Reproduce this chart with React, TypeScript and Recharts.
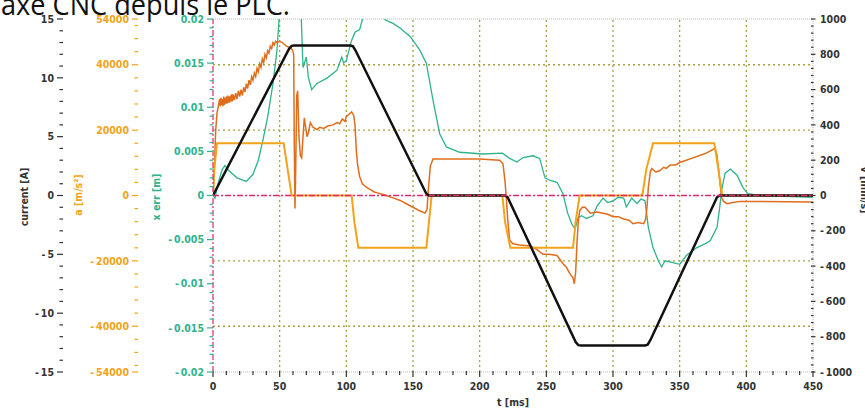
import React from 'react';
import { ComposedChart, Line, XAxis, YAxis, ReferenceLine } from 'recharts';

const FONT = "'DejaVu Sans Condensed', 'DejaVu Sans', sans-serif";

// velocity [mm/s] (right axis)
const velocityPts: [number, number][] = [
  [0, 0], [57, 830], [59, 848], [61, 850], [103, 850], [105, 845], [107, 820], [160, 10], [162, 0],
  [219, 0], [221, -10], [272, -830], [274, -848], [276, -850], [324, -850], [326, -845], [328, -820],
  [378, -10], [380, 0], [450, 0],
];

// acceleration [m/s²]
const accelPts: [number, number][] = [
  [0, 0], [1, 8000], [3, 16000], [53, 16000], [56, 8000], [59, 0], [104, 0], [106, -8000], [109, -16000],
  [160, -16000], [162, -8000], [164, 0], [217, 0], [219, -8000], [223, -16000], [270, -16000], [272, -8000],
  [275, 0], [322, 0], [325, 8000], [330, 16000], [376, 16000], [379, 8000], [382, 0], [450, 0],
];

// current [A]
const currentPts: [number, number][] = [
  [0, 0], [1, 2.2], [2, 5.5], [3, 7.0], [4, 7.6],
  [5, 8.2], [5.5, 7.6], [6, 8.3], [6.5, 7.7], [7, 8.2], [7.5, 7.6], [8, 8.4], [8.5, 7.7], [9, 8.3], [9.5, 7.8],
  [10, 8.4], [10.5, 7.8], [11, 8.5], [11.5, 7.9], [12, 8.4], [12.5, 7.9], [13, 8.5], [13.5, 8.0], [14, 8.6],
  [14.5, 8.0], [15, 8.6], [16, 8.1], [17, 8.7], [18, 8.2], [19, 8.9], [20, 8.4], [21, 9.0], [22, 8.5], [23, 9.2],
  [24, 8.8], [25, 9.5], [26, 9.1], [27, 9.8], [28, 9.4], [29, 10.1], [30, 9.8], [31, 10.4], [32, 10.1], [33, 10.8],
  [34, 10.5], [35, 11.2], [36, 10.9], [37, 11.6], [38, 11.3], [39, 12.0], [40, 11.7], [41, 12.3], [42, 12.1],
  [43, 12.7], [44, 12.5], [45, 13.0], [46, 12.8], [47, 13.1], [48, 13.0], [50, 13.1], [52, 13.0], [55, 12.7],
  [57, 12.6], [59.5, 12.4], [60.5, 12.0], [61, 4], [61.5, -1.1], [62, 2], [62.8, 8.5], [63.5, 8.9], [64.5, 5],
  [65.5, 3.4], [66.5, 3.2], [67.5, 5.0], [68.5, 6.6], [69.5, 5.8], [70.5, 5.0], [71.5, 5.3], [73, 6.2], [75, 5.8],
  [78, 5.6], [80, 5.8], [83, 5.7], [86, 5.9], [90, 6.0], [93, 6.2], [95, 6.1], [97, 6.5], [99, 6.3], [100, 6.7],
  [102, 6.9], [104, 7.1], [105.5, 6.8], [106.5, 6.0], [107.5, 3.8], [108.5, 2.6], [110, 1.6], [112, 1.0],
  [115, 0.7], [118, 0.5], [121, 0.3], [124, 0.2], [127, 0.1], [130, 0], [135, -0.2], [140, -0.4], [145, -0.7],
  [150, -1.0], [155, -1.3], [159, -1.5], [160.5, -1.2], [161.5, 0.5], [163, 2.5], [165, 3.1], [168, 3.1],
  [180, 3.1], [200, 3.1], [215, 3.0], [217.5, 2.7], [219, 1.2], [220, -0.2], [221, -2], [222.5, -3.8], [225, -4.1],
  [230, -4.2], [238, -4.3], [243, -4.6], [247.5, -5.0], [252, -5.0], [258, -5.1], [262.5, -5.8], [265, -6.1],
  [268, -6.7], [270, -7.0], [271, -7.5], [272, -6.5], [273, -4.0], [274, -2.2], [275, -1.3], [277, -1.0],
  [279, -1.0], [283, -1.5], [288, -1.4], [292.5, -1.5], [296, -1.6], [300, -1.8], [304, -1.8], [308, -2.0],
  [312, -2.1], [315, -2.4], [319, -2.3], [323, -2.4], [324.5, -2.0], [325.5, -1.0], [326.5, 0.7], [328, 2.0],
  [329, 2.3], [332, 2.0], [335, 2.1], [338, 2.4], [340, 2.3], [343, 2.6], [347, 2.6], [350, 2.8], [355, 3.0],
  [360, 3.2], [365, 3.4], [370, 3.6], [373, 3.8], [376.5, 4.0], [378, 3.4], [379, 2.4], [380.5, 0.8],
  [381.5, -0.2], [383, -0.5], [385.5, -0.7], [390, -0.6], [395, -0.5], [400, -0.5], [450, -0.55],
];

// following error [m]
const errPts: [number, number][] = [
  [0, 0], [1.5, -0.0003], [4, 0.0015], [7, 0.003], [9, 0.0034], [12, 0.0028], [18, 0.002], [25, 0.0016],
  [30, 0.0024], [34, 0.004], [37.5, 0.0063], [41, 0.0089], [45, 0.0127], [48, 0.0165], [50, 0.021], [55, 0.026],
  [62, 0.026], [66, 0.021], [67.5, 0.0145], [70, 0.0157], [71.5, 0.0134], [74, 0.012], [78, 0.0127],
  [85.5, 0.0133], [93, 0.0142], [96.5, 0.0157], [98, 0.015], [100, 0.0153], [104, 0.0176], [106.5, 0.0185],
  [110, 0.0188], [113, 0.0205], [118, 0.024], [125, 0.023], [129, 0.0199], [135, 0.0195], [140, 0.019],
  [148, 0.018], [155, 0.0165], [160, 0.015], [165, 0.0108], [170, 0.007], [175, 0.0055], [185, 0.0049],
  [202.5, 0.0047], [217, 0.0048], [222.5, 0.0042], [228, 0.0038], [232.5, 0.0043], [240, 0.0045], [245, 0.0042],
  [249, 0.002], [253, 0.0017], [258, 0.0015], [262.5, 0.0002], [266, -0.002], [269, -0.0032], [271.5, -0.0038],
  [274, -0.0025], [276.5, -0.0023], [280, -0.0026], [285, -0.0023], [288, -0.0012], [292.5, -0.0003],
  [296, -0.0008], [300, -0.0006], [304, -0.0002], [308, -0.0003], [310, -0.0013], [314, -0.0003], [318, -0.0009],
  [321, -0.0004], [324, -0.0006], [326.5, -0.0036], [330, -0.0059], [334, -0.0074], [336.5, -0.0081],
  [339, -0.0074], [345, -0.0076], [350, -0.0078], [355, -0.0068], [363, -0.0059], [370, -0.0054], [373, -0.0051],
  [378, -0.0036], [380, -0.0014], [381.5, 0.0006], [384, 0.0025], [388, 0.003], [393, 0.0023], [397.5, 0.0009],
  [401, 0.0002], [410, 0], [450, -0.0002],
];

const tMajor = [0, 50, 100, 150, 200, 250, 300, 350, 400, 450];
const curMajor = [-15, -10, -5, 0, 5, 10, 15];
const accMajor = [-54000, -40000, -20000, 0, 20000, 40000, 54000];
const errMajor = [-0.02, -0.015, -0.01, -0.005, 0, 0.005, 0.01, 0.015, 0.02];
const velMajor = [-1000, -800, -600, -400, -200, 0, 200, 400, 600, 800, 1000];
const gridT = [50, 100, 150, 200, 250, 300, 350, 400];
const gridA = [-40000, -20000, 20000, 40000];

const range = (a: number, b: number, step: number, scale = 1) => {
  const out: number[] = [];
  for (let i = a; i <= b; i += step) out.push(i / scale);
  return out;
};
const tTicks = range(0, 450, 10);
const curTicks = range(-15, 15, 1);
const accTicks = [-54000, ...range(-52000, 52000, 4000), 54000];
const errTicks = range(-20, 20, 1, 1000);
const velTicks = range(-1000, 1000, 40);

const toRows = (pts: [number, number][]) => pts.map(([t, v]) => ({ t, v }));

const C_CUR = '#333333';
const C_ACC = '#f2a31b';
const C_ERR = '#2eb38c';
const C_CURLINE = '#df6d1c';
const C_GRID = '#aaa24a';
const C_ZERO = '#e0286a';

// axis ids: sorted order decides stacking (first = next to the plot)
const ID_ERR = 'y1';
const ID_ACC = 'y2';
const ID_CUR = 'y3';
const ID_VEL = 'y4';

const isMajor = (majors: number[], v: number) => majors.some((m) => Math.abs(m - v) < 1e-9);
const fmtNeg = (v: number) => (v < 0 ? '-\u2009' + String(Math.abs(v)) : String(v));

const makeLeftTick = (majors: number[], color: string) => (props: any) => {
  const { x, y, payload } = props;
  const major = isMajor(majors, payload.value);
  return (
    <g>
      <line x1={x - (major ? 6 : 3.5)} x2={x} y1={y} y2={y} stroke={color} strokeWidth={1.2} />
      {major && (
        <text x={x - 9} y={y} dy="0.35em" textAnchor="end" fill={color} fontSize={10.5} fontWeight="bold" fontFamily={FONT}>
          {fmtNeg(payload.value)}
        </text>
      )}
    </g>
  );
};

const RightTick = (props: any) => {
  const { x, y, payload } = props;
  const major = isMajor(velMajor, payload.value);
  return (
    <g>
      <line x1={x - 2} x2={x + (major ? 2.5 : 0.5)} y1={y} y2={y} stroke={C_CUR} strokeWidth={1.2} />
      {major && (
        <text x={x + 7} y={y} dy="0.35em" textAnchor="start" fill={C_CUR} fontSize={10.5} fontWeight="bold" fontFamily={FONT}>
          {fmtNeg(payload.value)}
        </text>
      )}
    </g>
  );
};

const BottomTick = (props: any) => {
  const { x, y, payload } = props;
  const major = isMajor(tMajor, payload.value);
  return (
    <g>
      <line x1={x} x2={x} y1={y - 1} y2={y + (major ? 5 : 3)} stroke={C_CUR} strokeWidth={1.2} />
      {major && (
        <text x={x} y={y + 14} dy="0.35em" textAnchor="middle" fill={C_CUR} fontSize={10.5} fontWeight="bold" fontFamily={FONT}>
          {String(payload.value)}
        </text>
      )}
    </g>
  );
};

export default function App() {
  return (
    <div style={{ position: 'absolute', left: 0, top: 0, width: 865, height: 409, background: '#fff' }}>
      <ComposedChart width={865} height={409} margin={{ top: 19, right: 0, bottom: 0, left: 0 }}>
        <XAxis
          xAxisId="t"
          dataKey="t"
          type="number"
          domain={[0, 450]}
          ticks={tTicks}
          interval={0}
          height={37}
          tickSize={0}
          tickMargin={0}
          tickLine={false}
          axisLine={{ stroke: '#bbbbbb', strokeDasharray: '1 1' }}
          tick={BottomTick}
          allowDataOverflow
        />
        <YAxis yAxisId={ID_ERR} orientation="left" type="number" domain={[-0.02, 0.02]} ticks={errTicks} interval={0}
          width={75} tickSize={0} tickMargin={0} tickLine={false} axisLine={false} tick={makeLeftTick(errMajor, C_ERR)} allowDataOverflow />
        <YAxis yAxisId={ID_ACC} orientation="left" type="number" domain={[-54000, 54000]} ticks={accTicks} interval={0}
          width={75} tickSize={0} tickMargin={0} tickLine={false} axisLine={false} tick={makeLeftTick(accMajor, C_ACC)} allowDataOverflow />
        <YAxis yAxisId={ID_CUR} orientation="left" type="number" domain={[-15, 15]} ticks={curTicks} interval={0}
          width={63} tickSize={0} tickMargin={0} tickLine={false} axisLine={false} tick={makeLeftTick(curMajor, C_CUR)} allowDataOverflow />
        <YAxis yAxisId={ID_VEL} orientation="right" type="number" domain={[-1000, 1000]} ticks={velTicks} interval={0}
          width={52} tickSize={0} tickMargin={0} tickLine={false} axisLine={{ stroke: '#bbbbbb', strokeDasharray: '1 1' }} tick={RightTick} allowDataOverflow />

        {gridT.map((t) => (
          <ReferenceLine key={'gt' + t} xAxisId="t" yAxisId={ID_ACC} x={t} stroke={C_GRID} strokeWidth={1.3} strokeDasharray="2 3" />
        ))}
        {gridA.map((a) => (
          <ReferenceLine key={'ga' + a} xAxisId="t" yAxisId={ID_ACC} y={a} stroke={C_GRID} strokeWidth={1.3} strokeDasharray="2 3" />
        ))}
        <ReferenceLine xAxisId="t" yAxisId={ID_ACC} y={54000} stroke="#bbbbbb" strokeDasharray="1 1" />

        <Line xAxisId="t" yAxisId={ID_ERR} data={toRows(errPts)} dataKey="v" stroke={C_ERR} strokeWidth={1.3} dot={false} isAnimationActive={false} />
        <Line xAxisId="t" yAxisId={ID_CUR} data={toRows(currentPts)} dataKey="v" stroke={C_CURLINE} strokeWidth={1.5} dot={false} isAnimationActive={false} />
        <Line xAxisId="t" yAxisId={ID_ACC} data={toRows(accelPts)} dataKey="v" stroke={C_ACC} strokeWidth={2} dot={false} isAnimationActive={false} />
        <Line xAxisId="t" yAxisId={ID_VEL} data={toRows(velocityPts)} dataKey="v" stroke="#111111" strokeWidth={2.5} dot={false} isAnimationActive={false} />

        <ReferenceLine xAxisId="t" yAxisId={ID_ACC} y={0} stroke={C_ZERO} strokeWidth={1.5} strokeDasharray="6 2 2 2" />
        <ReferenceLine xAxisId="t" yAxisId={ID_ACC} x={0} stroke={C_ZERO} strokeWidth={1.2} strokeDasharray="6 2 2 2" />

        <text x={1} y={15} fontSize={29} fontFamily="'Open Sans', sans-serif" fill="#111" textLength={289} lengthAdjust="spacingAndGlyphs">
          axe CNC depuis le PLC.
        </text>
        <text transform="translate(24,197) rotate(-90)" dy="0.35em" textAnchor="middle" fontSize={10.5} fontWeight="bold" fontFamily={FONT} fill={C_CUR}>
          current [A]
        </text>
        <text transform="translate(78,195) rotate(-90)" dy="0.35em" textAnchor="middle" fontSize={10.5} fontWeight="bold" fontFamily={FONT} fill={C_ACC}>
          a [m/s²]
        </text>
        <text transform="translate(156,197) rotate(-90)" dy="0.35em" textAnchor="middle" fontSize={10.5} fontWeight="bold" fontFamily={FONT} fill={C_ERR}>
          x err [m]
        </text>
        <text transform="translate(861,190) rotate(90)" textAnchor="middle" fontSize={10.5} fontWeight="bold" fontFamily={FONT} fill={C_CUR}>
          v [mm/s]
        </text>
        <text x={513} y={402} dy="0.35em" textAnchor="middle" fontSize={10.5} fontWeight="bold" fontFamily={FONT} fill={C_CUR}>
          t [ms]
        </text>
      </ComposedChart>
    </div>
  );
}
